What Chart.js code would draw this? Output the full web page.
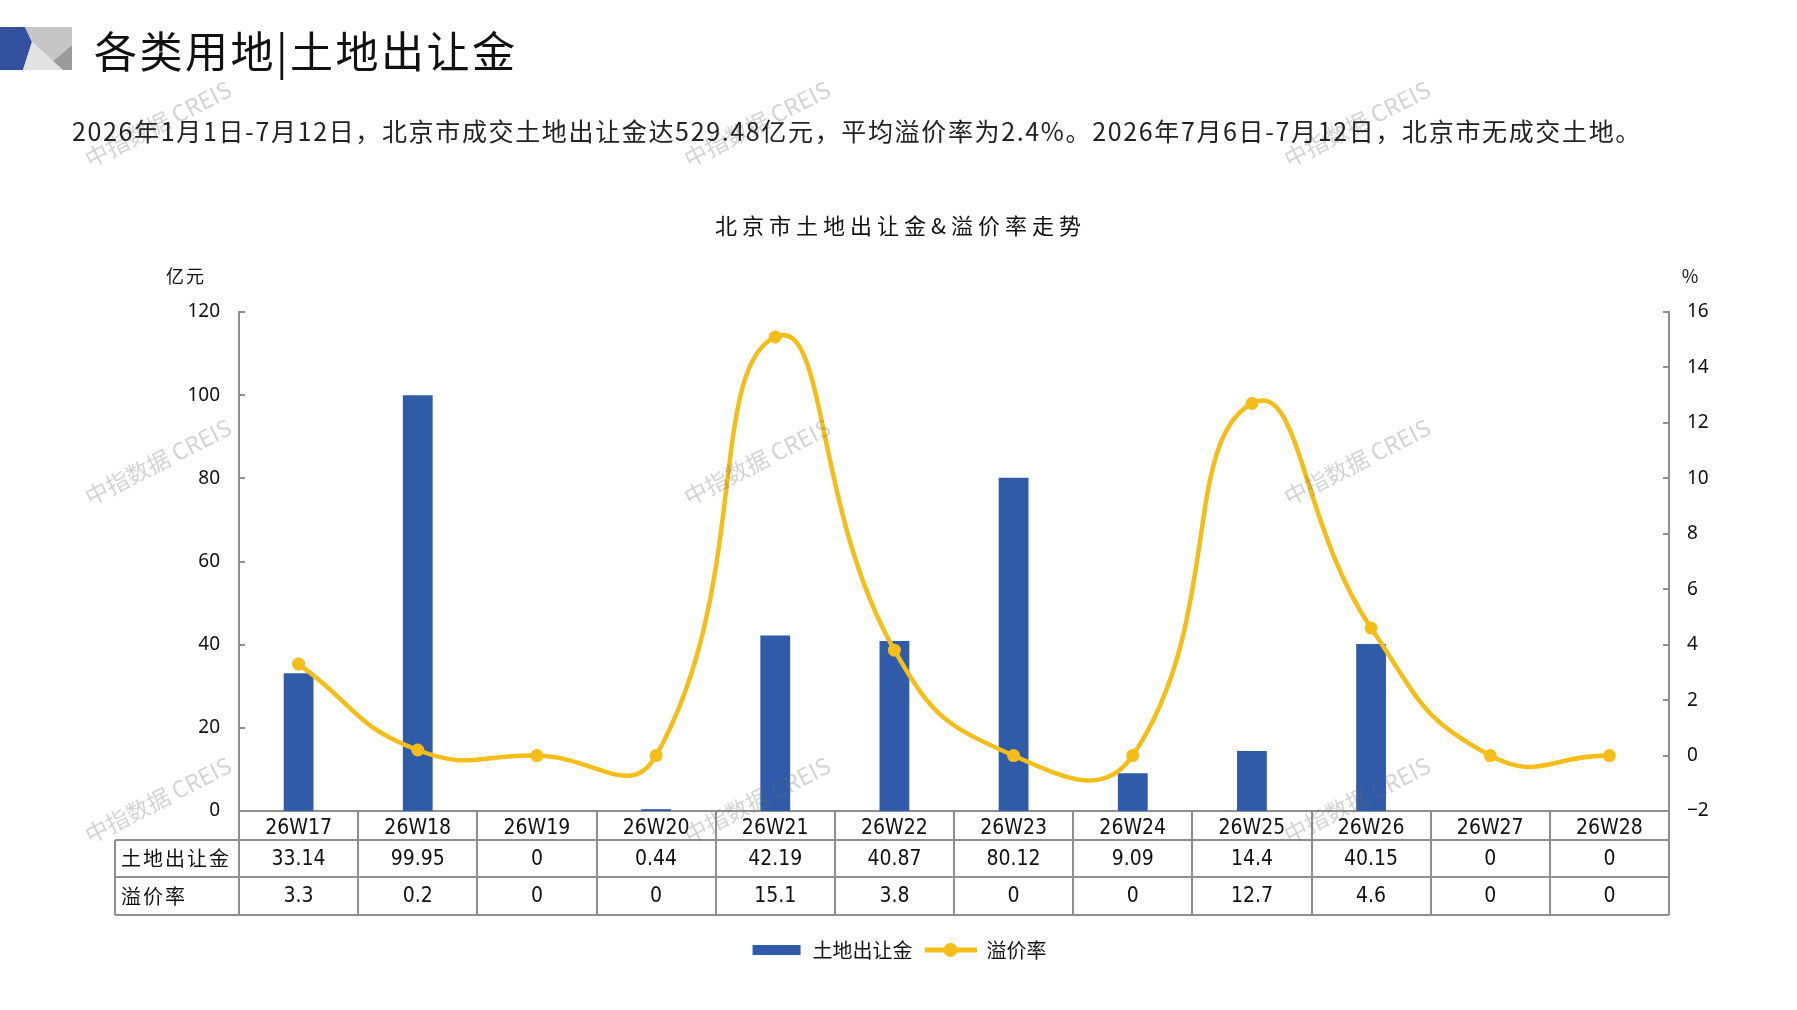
<!DOCTYPE html>
<html>
<head>
<meta charset="utf-8">
<script src="https://cdn.jsdelivr.net/npm/chart.js@4.4.1/dist/chart.umd.min.js"></script>
<style>
html, body { margin: 0; padding: 0; background: #fff; }
#page { position: relative; width: 1797px; height: 1010px; overflow: hidden; }
#c { position: absolute; left: 0; top: 0; }
#logo { position: absolute; left: 0; top: 27px; }
#head { position: absolute; left: 94px; top: 28px; font: 43px/43px 'Noto Sans CJK SC', sans-serif; letter-spacing: 2.5px; color: #111; white-space: nowrap; }
#sub { position: absolute; left: 72px; top: 117px; font: 25px/26px 'Noto Sans CJK SC', sans-serif; letter-spacing: 1.65px; color: #222; white-space: nowrap; }
</style>
</head>
<body>
<div id="page">
  <canvas id="c" width="1797" height="1010"></canvas>
  <svg id="logo" width="72" height="43" viewBox="0 27 72 43">
    <polygon points="0,27 25,27 32,42 23,70 0,70" fill="#34519f"/>
    <polygon points="25,27 72,27 72,45 53,61 32,42" fill="#c6c6c6"/>
    <polygon points="32,42 63,70 23,70" fill="#e2e2e2"/>
    <polygon points="72,45 72,70 63,70 53,61" fill="#9b9b9b"/>
  </svg>
  <div id="head">各类用地|土地出让金</div>
  <div id="sub">2026年1月1日-7月12日，北京市成交土地出让金达529.48亿元，平均溢价率为2.4%。2026年7月6日-7月12日，北京市无成交土地。</div>
</div>
<script>
// data
const weeks = ['26W17', '26W18', '26W19', '26W20', '26W21', '26W22', '26W23', '26W24', '26W25', '26W26', '26W27', '26W28'];
const landFee = [33.14, 99.95, 0, 0.44, 42.19, 40.87, 80.12, 9.09, 14.4, 40.15, 0, 0];
const premiumRate = [3.3, 0.2, 0, 0, 15.1, 3.8, 0, 0, 12.7, 4.6, 0, 0];
const seriesNames = ['土地出让金', '溢价率'];
const chartTitle = '北京市土地出让金&溢价率走势';
const leftUnit = '亿元';
const rightUnit = '%';
const watermark = '中指数据 CREIS';

const BLUE = '#2f5ba8';
const GOLD = '#f5bd18';
const GRID = '#8f8f8f';
const CJK = "'Noto Sans CJK SC', sans-serif";
const NARROW = "'Liberation Sans Narrow', 'DejaVu Sans Condensed', 'Liberation Sans', sans-serif";

const PAD_BOTTOM = 40;

function legendIcon(kind) {
    const c = document.createElement('canvas');
    c.width = 52;
    c.height = 16;
    const g = c.getContext('2d');
    if (kind === 'bar') {
        g.fillStyle = BLUE;
        g.fillRect(2, 3, 48, 10);
    } else {
        g.strokeStyle = GOLD;
        g.lineWidth = 5;
        g.beginPath();
        g.moveTo(0, 8);
        g.lineTo(52, 8);
        g.stroke();
        g.fillStyle = GOLD;
        g.beginPath();
        g.arc(26, 8, 7, 0, Math.PI * 2);
        g.fill();
    }
    return c;
}

const tablePlugin = {
    id: 'tablePlugin',
    afterDraw(chart) {
        const { ctx, chartArea } = chart;
        const x = chart.scales.x;
        const yl = chart.scales.y;
        const yr = chart.scales.y1;
        const L = chartArea.left, R = chartArea.right, B = chartArea.bottom;
        const colW = (R - L) / weeks.length;
        const rows = [B, B + 29, B + 66, B + 104];
        const tableLeft = 115;

        ctx.save();
        // inner tick marks
        ctx.strokeStyle = GRID;
        ctx.lineWidth = 2;
        yl.ticks.forEach(t => {
            const py = Math.round(yl.getPixelForValue(t.value));
            ctx.beginPath(); ctx.moveTo(L, py); ctx.lineTo(L + 6, py); ctx.stroke();
        });
        yr.ticks.forEach(t => {
            const py = Math.round(yr.getPixelForValue(t.value));
            ctx.beginPath(); ctx.moveTo(R, py); ctx.lineTo(R - 6, py); ctx.stroke();
        });

        // table grid
        ctx.beginPath();
        for (let i = 1; i < rows.length; i++) {
            ctx.moveTo(tableLeft, rows[i]); ctx.lineTo(R, rows[i]);
        }
        ctx.moveTo(tableLeft, rows[1]); ctx.lineTo(tableLeft, rows[3]);
        for (let i = 0; i <= weeks.length; i++) {
            const px = Math.round(L + i * colW);
            ctx.moveTo(px, rows[0]); ctx.lineTo(px, rows[3]);
        }
        ctx.stroke();

        // row labels and values
        ctx.fillStyle = '#111';
        ctx.textBaseline = 'middle';
        ctx.textAlign = 'left';
        ctx.font = '20px ' + CJK;
        ctx.letterSpacing = '2px';
        ctx.fillText(seriesNames[0], 121, (rows[1] + rows[2]) / 2);
        ctx.fillText(seriesNames[1], 121, (rows[2] + rows[3]) / 2);
        ctx.letterSpacing = '0px';
        ctx.textAlign = 'center';
        ctx.font = '21px ' + NARROW;
        weeks.forEach((w, i) => {
            const px = x.getPixelForValue(i);
            ctx.fillText(String(landFee[i]), px, (rows[1] + rows[2]) / 2 + 1);
            ctx.fillText(String(premiumRate[i]), px, (rows[2] + rows[3]) / 2 + 1);
        });

        // chart title and units
        ctx.font = '22px ' + CJK;
        ctx.letterSpacing = '5px';
        ctx.fillText(chartTitle, chart.width / 2 + 2, 226);
        ctx.font = '18px ' + CJK;
        ctx.letterSpacing = '2px';
        ctx.fillText(leftUnit, 186, 276);
        ctx.letterSpacing = '0px';
        ctx.fillText(rightUnit, 1690, 276);

        // watermarks
        ctx.font = '23px ' + CJK;
        ctx.fillStyle = 'rgba(110,110,110,0.3)';
        [124, 462, 800].forEach(wy => {
            [158, 757, 1357].forEach(wx => {
                ctx.save();
                ctx.translate(wx, wy);
                ctx.rotate(-27 * Math.PI / 180);
                ctx.fillText(watermark, 0, 0);
                ctx.restore();
            });
        });
        ctx.restore();
    }
};

new Chart(document.getElementById('c'), {
    data: {
        labels: weeks,
        datasets: [
            {
                type: 'line',
                label: seriesNames[1],
                data: premiumRate,
                yAxisID: 'y1',
                borderColor: GOLD,
                backgroundColor: GOLD,
                borderWidth: 4.5,
                pointRadius: 6.5,
                pointBorderWidth: 0,
                pointBackgroundColor: GOLD,
                tension: 0.5,
                order: 1
            },
            {
                type: 'bar',
                label: seriesNames[0],
                data: landFee,
                yAxisID: 'y',
                backgroundColor: BLUE,
                barPercentage: 0.25,
                categoryPercentage: 1,
                order: 2
            }
        ]
    },
    options: {
        responsive: false,
        animation: false,
        layout: { padding: { top: 312, left: 0, right: 0, bottom: PAD_BOTTOM } },
        plugins: {
            tooltip: { enabled: false },
            legend: {
                position: 'bottom',
                labels: {
                    usePointStyle: true,
                    pointStyleWidth: 52,
                    padding: 12,
                    color: '#111',
                    font: { family: CJK, size: 20 },
                    generateLabels() {
                        return [
                            { text: seriesNames[0], pointStyle: legendIcon('bar'), datasetIndex: 1, fontColor: '#111', lineWidth: 0 },
                            { text: seriesNames[1], pointStyle: legendIcon('line'), datasetIndex: 0, fontColor: '#111', lineWidth: 0 }
                        ];
                    }
                }
            }
        },
        scales: {
            x: {
                grid: { display: false, drawTicks: false },
                border: { display: true, color: GRID, width: 2 },
                ticks: { color: '#111', padding: 5, font: { family: NARROW, size: 21 } },
                afterFit(s) {
                    const legH = s.chart.legend ? s.chart.legend.height : 0;
                    s.height = 1010 - 811 - PAD_BOTTOM - legH;
                }
            },
            y: {
                position: 'left',
                min: 0,
                max: 120,
                ticks: { stepSize: 20, color: '#111', padding: 19, font: { family: "'Noto Sans', sans-serif", size: 19 } },
                grid: { display: false, drawTicks: false },
                border: { display: true, color: GRID, width: 2 },
                afterFit(s) { s.width = 239; }
            },
            y1: {
                position: 'right',
                min: -2,
                max: 16,
                ticks: {
                    stepSize: 2,
                    color: '#111',
                    padding: 18,
                    font: { family: "'Noto Sans', sans-serif", size: 19 },
                    callback: v => String(v).replace('-', '\u2212')
                },
                grid: { display: false, drawTicks: false },
                border: { display: true, color: GRID, width: 2 },
                afterFit(s) { s.width = 128; }
            }
        }
    },
    plugins: [tablePlugin]
});
</script>
</body>
</html>
